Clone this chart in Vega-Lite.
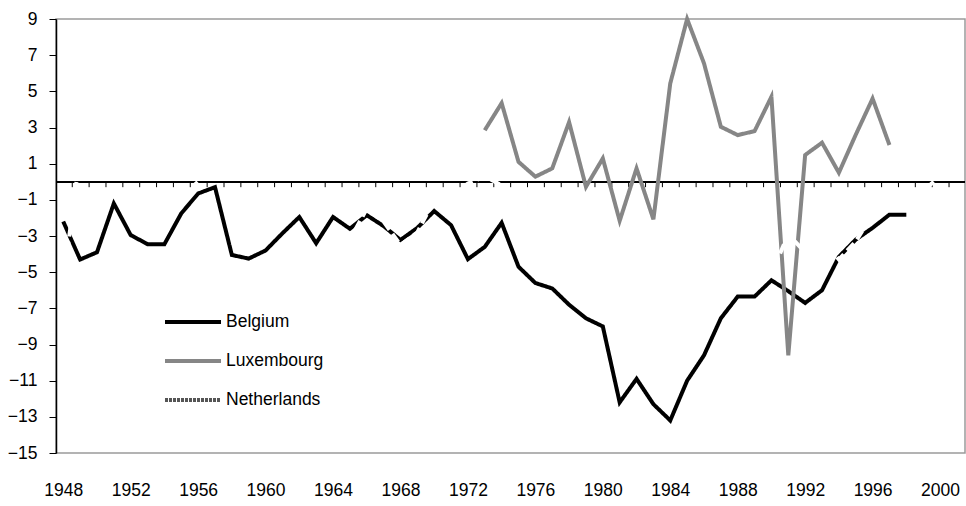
{
  "$schema": "https://vega.github.io/schema/vega-lite/v6.json",
  "width": 909,
  "height": 434,
  "autosize": {"type": "none"},
  "padding": {"left": 56, "top": 19, "right": 1, "bottom": 53},
  "config": {
    "view": {"stroke": "#9a9a9a", "strokeWidth": 1.5},
    "font": "Liberation Sans, Arial",
    "axis": {"grid": false, "labelFont": "Liberation Sans, Arial", "labelColor": "#000000", "labelFontSize": 17.5, "labelOverlap": false, "labelFlush": false, "title": null},
    "axisY": {"domainColor": "#000000", "domainWidth": 1.5, "tickColor": "#000000", "tickSize": 7, "labelPadding": 12, "tickCount": 30}
  },
  "datasets": {
    "series": [
      {"year": 1948, "country": "Belgium", "value": -2.2},
      {"year": 1949, "country": "Belgium", "value": -4.3},
      {"year": 1950, "country": "Belgium", "value": -3.9},
      {"year": 1951, "country": "Belgium", "value": -1.2},
      {"year": 1952, "country": "Belgium", "value": -2.95},
      {"year": 1953, "country": "Belgium", "value": -3.45},
      {"year": 1954, "country": "Belgium", "value": -3.45},
      {"year": 1955, "country": "Belgium", "value": -1.75},
      {"year": 1956, "country": "Belgium", "value": -0.65},
      {"year": 1957, "country": "Belgium", "value": -0.3},
      {"year": 1958, "country": "Belgium", "value": -4.05},
      {"year": 1959, "country": "Belgium", "value": -4.25},
      {"year": 1960, "country": "Belgium", "value": -3.8},
      {"year": 1961, "country": "Belgium", "value": -2.85},
      {"year": 1962, "country": "Belgium", "value": -1.95},
      {"year": 1963, "country": "Belgium", "value": -3.4},
      {"year": 1964, "country": "Belgium", "value": -1.95},
      {"year": 1965, "country": "Belgium", "value": -2.6},
      {"year": 1966, "country": "Belgium", "value": -1.85},
      {"year": 1967, "country": "Belgium", "value": -2.45},
      {"year": 1968, "country": "Belgium", "value": -3.22},
      {"year": 1969, "country": "Belgium", "value": -2.55},
      {"year": 1970, "country": "Belgium", "value": -1.62},
      {"year": 1971, "country": "Belgium", "value": -2.4},
      {"year": 1972, "country": "Belgium", "value": -4.28},
      {"year": 1973, "country": "Belgium", "value": -3.6},
      {"year": 1974, "country": "Belgium", "value": -2.27},
      {"year": 1975, "country": "Belgium", "value": -4.7},
      {"year": 1976, "country": "Belgium", "value": -5.6},
      {"year": 1977, "country": "Belgium", "value": -5.9},
      {"year": 1978, "country": "Belgium", "value": -6.8},
      {"year": 1979, "country": "Belgium", "value": -7.55},
      {"year": 1980, "country": "Belgium", "value": -8.0},
      {"year": 1981, "country": "Belgium", "value": -12.2},
      {"year": 1982, "country": "Belgium", "value": -10.9},
      {"year": 1983, "country": "Belgium", "value": -12.3},
      {"year": 1984, "country": "Belgium", "value": -13.2},
      {"year": 1985, "country": "Belgium", "value": -11.0},
      {"year": 1986, "country": "Belgium", "value": -9.6},
      {"year": 1987, "country": "Belgium", "value": -7.55},
      {"year": 1988, "country": "Belgium", "value": -6.35},
      {"year": 1989, "country": "Belgium", "value": -6.35},
      {"year": 1990, "country": "Belgium", "value": -5.45},
      {"year": 1991, "country": "Belgium", "value": -6.05},
      {"year": 1992, "country": "Belgium", "value": -6.7},
      {"year": 1993, "country": "Belgium", "value": -6.0},
      {"year": 1994, "country": "Belgium", "value": -4.15},
      {"year": 1995, "country": "Belgium", "value": -3.2},
      {"year": 1996, "country": "Belgium", "value": -2.55},
      {"year": 1997, "country": "Belgium", "value": -1.82},
      {"year": 1998, "country": "Belgium", "value": -1.82},
      {"year": 1973, "country": "Luxembourg", "value": 2.85},
      {"year": 1974, "country": "Luxembourg", "value": 4.35},
      {"year": 1975, "country": "Luxembourg", "value": 1.1},
      {"year": 1976, "country": "Luxembourg", "value": 0.28},
      {"year": 1977, "country": "Luxembourg", "value": 0.74},
      {"year": 1978, "country": "Luxembourg", "value": 3.3},
      {"year": 1979, "country": "Luxembourg", "value": -0.28},
      {"year": 1980, "country": "Luxembourg", "value": 1.29},
      {"year": 1981, "country": "Luxembourg", "value": -2.16},
      {"year": 1982, "country": "Luxembourg", "value": 0.74},
      {"year": 1983, "country": "Luxembourg", "value": -2.08},
      {"year": 1984, "country": "Luxembourg", "value": 5.44},
      {"year": 1985, "country": "Luxembourg", "value": 9.0},
      {"year": 1986, "country": "Luxembourg", "value": 6.55},
      {"year": 1987, "country": "Luxembourg", "value": 3.04},
      {"year": 1988, "country": "Luxembourg", "value": 2.58},
      {"year": 1989, "country": "Luxembourg", "value": 2.8},
      {"year": 1990, "country": "Luxembourg", "value": 4.7},
      {"year": 1991, "country": "Luxembourg", "value": -9.6},
      {"year": 1992, "country": "Luxembourg", "value": 1.48},
      {"year": 1993, "country": "Luxembourg", "value": 2.16},
      {"year": 1994, "country": "Luxembourg", "value": 0.5},
      {"year": 1995, "country": "Luxembourg", "value": 2.6},
      {"year": 1996, "country": "Luxembourg", "value": 4.6},
      {"year": 1997, "country": "Luxembourg", "value": 2.03},
      {"year": 1948, "country": "Netherlands", "value": -5.5},
      {"year": 1949, "country": "Netherlands", "value": 1.5},
      {"year": 1950, "country": "Netherlands", "value": 2.0},
      {"year": 1951, "country": "Netherlands", "value": 1.0},
      {"year": 1952, "country": "Netherlands", "value": 1.5},
      {"year": 1953, "country": "Netherlands", "value": 2.0},
      {"year": 1954, "country": "Netherlands", "value": 1.5},
      {"year": 1955, "country": "Netherlands", "value": 0.8},
      {"year": 1956, "country": "Netherlands", "value": -0.2},
      {"year": 1957, "country": "Netherlands", "value": -2.0},
      {"year": 1958, "country": "Netherlands", "value": -5.0},
      {"year": 1959, "country": "Netherlands", "value": -4.8},
      {"year": 1960, "country": "Netherlands", "value": -4.5},
      {"year": 1961, "country": "Netherlands", "value": -3.5},
      {"year": 1962, "country": "Netherlands", "value": -3.0},
      {"year": 1963, "country": "Netherlands", "value": -4.0},
      {"year": 1964, "country": "Netherlands", "value": -3.0},
      {"year": 1965, "country": "Netherlands", "value": -3.2},
      {"year": 1966, "country": "Netherlands", "value": -1.5},
      {"year": 1967, "country": "Netherlands", "value": -2.2},
      {"year": 1968, "country": "Netherlands", "value": -3.5},
      {"year": 1969, "country": "Netherlands", "value": -2.8},
      {"year": 1970, "country": "Netherlands", "value": -1.0},
      {"year": 1971, "country": "Netherlands", "value": -0.8},
      {"year": 1972, "country": "Netherlands", "value": -0.1},
      {"year": 1973, "country": "Netherlands", "value": 0.3},
      {"year": 1974, "country": "Netherlands", "value": -0.2},
      {"year": 1975, "country": "Netherlands", "value": -2.9},
      {"year": 1976, "country": "Netherlands", "value": -3.0},
      {"year": 1977, "country": "Netherlands", "value": -2.0},
      {"year": 1978, "country": "Netherlands", "value": -2.8},
      {"year": 1979, "country": "Netherlands", "value": -3.0},
      {"year": 1980, "country": "Netherlands", "value": -4.2},
      {"year": 1981, "country": "Netherlands", "value": -5.5},
      {"year": 1982, "country": "Netherlands", "value": -6.6},
      {"year": 1983, "country": "Netherlands", "value": -6.0},
      {"year": 1984, "country": "Netherlands", "value": -5.8},
      {"year": 1985, "country": "Netherlands", "value": -4.5},
      {"year": 1986, "country": "Netherlands", "value": -5.1},
      {"year": 1987, "country": "Netherlands", "value": -5.8},
      {"year": 1988, "country": "Netherlands", "value": -4.6},
      {"year": 1989, "country": "Netherlands", "value": -4.7},
      {"year": 1990, "country": "Netherlands", "value": -5.1},
      {"year": 1991, "country": "Netherlands", "value": -2.9},
      {"year": 1992, "country": "Netherlands", "value": -3.9},
      {"year": 1993, "country": "Netherlands", "value": -3.2},
      {"year": 1994, "country": "Netherlands", "value": -4.3},
      {"year": 1995, "country": "Netherlands", "value": -3.3},
      {"year": 1996, "country": "Netherlands", "value": -1.8},
      {"year": 1997, "country": "Netherlands", "value": -1.1},
      {"year": 1998, "country": "Netherlands", "value": -0.8},
      {"year": 1999, "country": "Netherlands", "value": -0.5},
      {"year": 2000, "country": "Netherlands", "value": 0.3}
    ],
    "ticks": [
      {"year": 1948}, {"year": 1949}, {"year": 1950}, {"year": 1951}, {"year": 1952}, {"year": 1953},
      {"year": 1954}, {"year": 1955}, {"year": 1956}, {"year": 1957}, {"year": 1958}, {"year": 1959},
      {"year": 1960}, {"year": 1961}, {"year": 1962}, {"year": 1963}, {"year": 1964}, {"year": 1965},
      {"year": 1966}, {"year": 1967}, {"year": 1968}, {"year": 1969}, {"year": 1970}, {"year": 1971},
      {"year": 1972}, {"year": 1973}, {"year": 1974}, {"year": 1975}, {"year": 1976}, {"year": 1977},
      {"year": 1978}, {"year": 1979}, {"year": 1980}, {"year": 1981}, {"year": 1982}, {"year": 1983},
      {"year": 1984}, {"year": 1985}, {"year": 1986}, {"year": 1987}, {"year": 1988}, {"year": 1989},
      {"year": 1990}, {"year": 1991}, {"year": 1992}, {"year": 1993}, {"year": 1994}, {"year": 1995},
      {"year": 1996}, {"year": 1997}, {"year": 1998}, {"year": 1999}, {"year": 2000}
    ]
  },
  "layer": [
    {
      "data": {"name": "ticks"},
      "mark": {"type": "rule", "color": "#000000", "strokeWidth": 1, "xOffset": 9},
      "encoding": {
        "x": {
          "field": "year", "type": "quantitative",
          "scale": {"domain": [1947.57, 2001.48], "nice": false, "zero": false},
          "axis": {
            "orient": "bottom", "values": [1948, 1952, 1956, 1960, 1964, 1968, 1972, 1976, 1980, 1984, 1988, 1992, 1996, 2000],
            "format": "d", "domain": false, "ticks": false, "labelPadding": 28, "tickCount": 30
          }
        },
        "y": {
          "datum": 0, "type": "quantitative",
          "scale": {"domain": [-15, 9], "nice": false, "zero": false},
          "axis": {"values": [-15, -13, -11, -9, -7, -5, -3, -1, 1, 3, 5, 7, 9], "tickCount": 30}
        },
        "y2": {"datum": -0.3}
      }
    },
    {
      "data": {"name": "ticks"},
      "mark": {"type": "rule", "color": "#000000", "strokeWidth": 1},
      "encoding": {
        "y": {"datum": 0, "type": "quantitative"}
      }
    },
    {
      "data": {"name": "series"},
      "transform": [{"filter": "datum.country !== 'Netherlands'"}],
      "mark": {"type": "line", "strokeWidth": 4, "strokeJoin": "miter", "strokeCap": "butt"},
      "encoding": {
        "x": {"field": "year", "type": "quantitative"},
        "y": {"field": "value", "type": "quantitative"},
        "color": {
          "field": "country", "type": "nominal",
          "scale": {"domain": ["Belgium", "Luxembourg", "Netherlands"], "range": ["#000000", "#868686", "#555555"]},
          "legend": {
            "orient": "none", "legendX": 107, "legendY": 273, "title": null,
            "symbolType": "stroke", "symbolSize": 3136, "symbolStrokeWidth": 4,
            "labelFontSize": 17.5, "labelFont": "Liberation Sans, Arial", "labelColor": "#000000", "labelOffset": 3,
            "rowPadding": 0
          }
        },
        "strokeDash": {
          "field": "country", "type": "nominal",
          "scale": {"domain": ["Belgium", "Luxembourg", "Netherlands"], "range": [[1, 0], [1, 0], [3, 1]]}
        }
      }
    },
    {
      "data": {"name": "series"},
      "transform": [{"filter": "datum.country === 'Netherlands'"}],
      "mark": {"type": "line", "strokeWidth": 4, "strokeCap": "butt", "strokeDash": [10, 5], "color": "#ffffff"},
      "encoding": {
        "x": {"field": "year", "type": "quantitative"},
        "y": {"field": "value", "type": "quantitative"}
      }
    }
  ]
}
